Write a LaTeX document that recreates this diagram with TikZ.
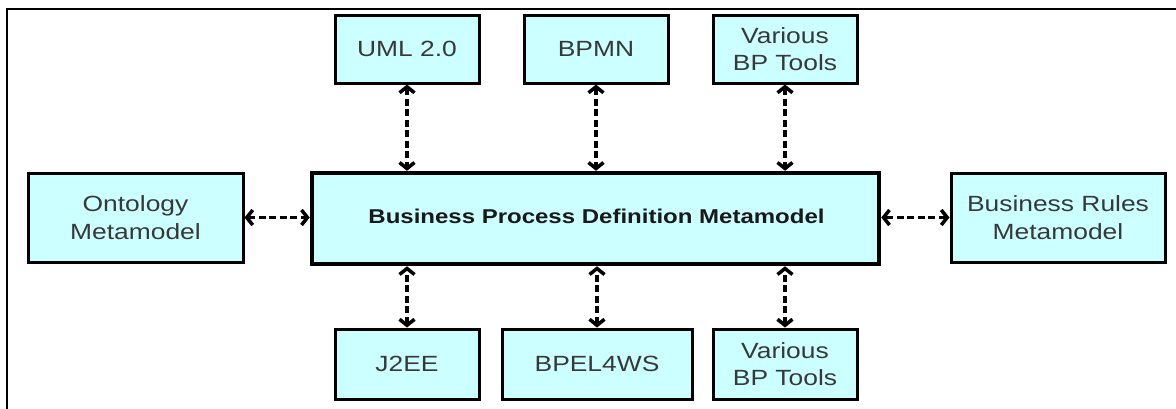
\documentclass[tikz,border=0pt]{standalone}
\usepackage{fontspec}
\setmainfont{Liberation Sans}[FakeStretch=1.2]
\usetikzlibrary{arrows.meta}
\definecolor{boxfill}{HTML}{CCFFFF}
\definecolor{txt}{HTML}{383838}
\begin{document}
\begin{tikzpicture}[x=1pt,y=-1pt,
  box/.style={draw=black, line width=3pt, fill=boxfill, text=txt,
    font=\fontsize{22}{27.5}\selectfont, align=center, inner sep=0pt},
  mainbox/.style={box, line width=4.5pt},
  maintxt/.style={text=black!90, font=\fontsize{20}{22}\selectfont\bfseries},
  link/.style={line width=3.5pt, dash pattern=on 7pt off 3.5pt,
    {Straight Barb[length=6pt,width=15pt]}-{Straight Barb[length=6pt,width=15pt]}}]
\useasboundingbox (0,0) rectangle (1176,408);
\fill[white] (0,0) rectangle (1176,408);
\draw[line width=2.5pt] (7,9) rectangle (1190,420);
\node[box, minimum width=144pt, minimum height=68pt] (uml) at (407,49) {UML 2.0};
\node[box, minimum width=144pt, minimum height=68pt] (bpmn) at (596,49) {BPMN};
\node[box, minimum width=144pt, minimum height=68pt] (vt) at (785,49) {Various\\BP Tools};
\node[mainbox, minimum width=567pt, minimum height=91pt] (main) at (595.5,218.5) {};
\node[maintxt] (maintext) at (596.5,216) {Business Process Definition Metamodel};
\node[box, minimum width=215pt, minimum height=89pt] (onto) at (135.5,217.5) {Ontology\\Metamodel};
\node[box, minimum width=214pt, minimum height=89pt] (br) at (1058,217.5) {Business Rules\\Metamodel};
\node[box, minimum width=144pt, minimum height=70pt] (j2ee) at (407,364) {J2EE};
\node[box, minimum width=190pt, minimum height=70pt] (bpel) at (597,364) {BPEL4WS};
\node[box, minimum width=144pt, minimum height=70pt] (vb) at (785,364) {Various\\BP Tools};
\draw[link] (uml.south) -- (uml.south |- main.north);
\draw[link] (bpmn.south) -- (bpmn.south |- main.north);
\draw[link] (vt.south) -- (vt.south |- main.north);
\draw[link] (j2ee.north) -- (j2ee.north |- main.south);
\draw[link] (bpel.north) -- (bpel.north |- main.south);
\draw[link] (vb.north) -- (vb.north |- main.south);
\draw[link] (onto.east) -- (main.west |- onto.east);
\draw[link] (br.west) -- (main.east |- br.west);
\end{tikzpicture}
\end{document}
